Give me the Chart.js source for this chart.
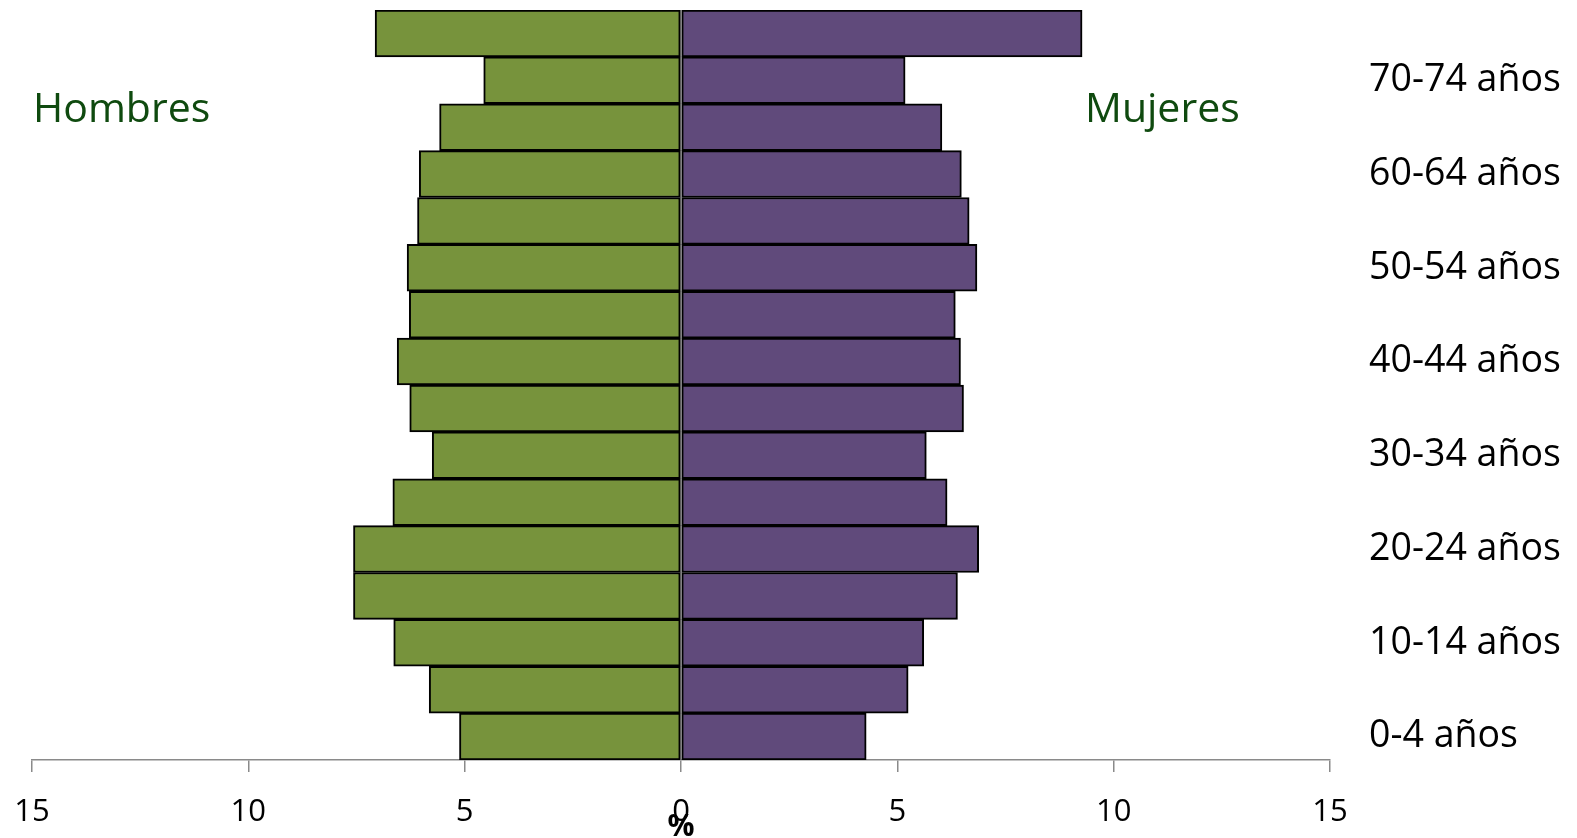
<!DOCTYPE html>
<html>
<head>
<meta charset="utf-8">
<script src="https://cdn.jsdelivr.net/npm/chart.js@4.4.1/dist/chart.umd.min.js"></script>
<style>
  html, body { margin: 0; padding: 0; background: #fff; }
  #wrap { width: 1577px; height: 838px; position: relative; }
</style>
</head>
<body>
<div id="wrap"><canvas id="pyramid"></canvas></div>
<script>
// grupos de edad, de abajo hacia arriba
const grupos = ['0-4 años', '5-9 años', '10-14 años', '15-19 años', '20-24 años', '25-29 años',
  '30-34 años', '35-39 años', '40-44 años', '45-49 años', '50-54 años', '55-59 años',
  '60-64 años', '65-69 años', '70-74 años', '75 y más años'];

// porcentajes
const hombres = [5.12, 5.82, 6.64, 7.57, 7.57, 6.66, 5.75, 6.27, 6.56, 6.28, 6.33, 6.09, 6.05, 5.58, 4.56, 7.07];
const mujeres = [4.28, 5.25, 5.61, 6.39, 6.88, 6.15, 5.67, 6.53, 6.46, 6.34, 6.84, 6.66, 6.48, 6.03, 5.18, 9.27];

const xTicks = [-15, -10, -5, 0, 5, 10, 15];

const AXIS_GRAY = '#8a8a8a';
const FONT = "'Open Sans', 'DejaVu Sans', sans-serif";

// etiquetas "Hombres" / "Mujeres" dentro del gráfico
const etiquetasSexo = {
    id: 'etiquetasSexo',
    afterDraw(chart) {
        const ctx = chart.ctx;
        const area = chart.chartArea;
        ctx.save();
        ctx.font = '41px ' + FONT;
        ctx.fillStyle = '#0f4a0f';
        ctx.textBaseline = 'alphabetic';
        ctx.textAlign = 'left';
        ctx.fillText('Hombres', area.left + 1, 122);
        ctx.fillText('Mujeres', 1085, 122);
        ctx.restore();
    }
};

// sin relleno extra alrededor de las escalas (el área del gráfico queda fija)
function sinPadding(scale) {
    scale.paddingTop = 0;
    scale.paddingBottom = 0;
    scale.paddingLeft = 0;
    scale.paddingRight = 0;
}

const ctx = document.getElementById('pyramid').getContext('2d');

new Chart(ctx, {
    type: 'bar',
    data: {
        labels: grupos,
        datasets: [
            {
                label: 'Hombres',
                data: hombres.map(v => -v),
                backgroundColor: '#77933c',
                borderColor: '#000',
                borderWidth: 2,
                borderSkipped: false,
                barPercentage: 1,
                categoryPercentage: 1
            },
            {
                label: 'Mujeres',
                data: mujeres,
                backgroundColor: '#604a7b',
                borderColor: '#000',
                borderWidth: 2,
                borderSkipped: false,
                barPercentage: 1,
                categoryPercentage: 1
            }
        ]
    },
    options: {
        indexAxis: 'y',
        responsive: true,
        maintainAspectRatio: false,
        animation: false,
        layout: { padding: { left: 32, top: 10, right: 0, bottom: 0 } },
        plugins: {
            legend: { display: false },
            tooltip: { enabled: false }
        },
        scales: {
            x: {
                stacked: true,
                min: -15,
                max: 15,
                z: 1,
                afterBuildTicks(scale) {
                    scale.ticks = xTicks.map(v => ({ value: v }));
                },
                afterFit(scale) {
                    scale.height = 78;
                    sinPadding(scale);
                },
                ticks: {
                    color: '#000',
                    font: { family: FONT, size: 31 },
                    padding: 22,
                    maxRotation: 0,
                    callback: v => Math.abs(v)
                },
                grid: {
                    drawOnChartArea: true,
                    color: c => (c.tick && c.tick.value === 0) ? AXIS_GRAY : 'rgba(0,0,0,0)',
                    lineWidth: 1.5,
                    tickColor: AXIS_GRAY,
                    tickLength: 12
                },
                border: { display: true, color: AXIS_GRAY, width: 1.5 },
                title: {
                    display: true,
                    text: '%',
                    color: '#000',
                    font: { family: FONT, size: 30, weight: 'bold' },
                    padding: { top: 0, bottom: -7 }
                }
            },
            y: {
                stacked: true,
                position: 'right',
                reverse: true,
                afterFit(scale) {
                    scale.width = 247;
                    sinPadding(scale);
                },
                ticks: {
                    autoSkip: false,
                    color: '#000',
                    font: { family: FONT, size: 37.5 },
                    padding: 39,
                    callback: function (val, i) {
                        return i % 2 === 0 ? this.getLabelForValue(val) : '';
                    }
                },
                grid: { display: false, drawTicks: false },
                border: { display: false }
            }
        }
    },
    plugins: [etiquetasSexo]
});
</script>
</body>
</html>
